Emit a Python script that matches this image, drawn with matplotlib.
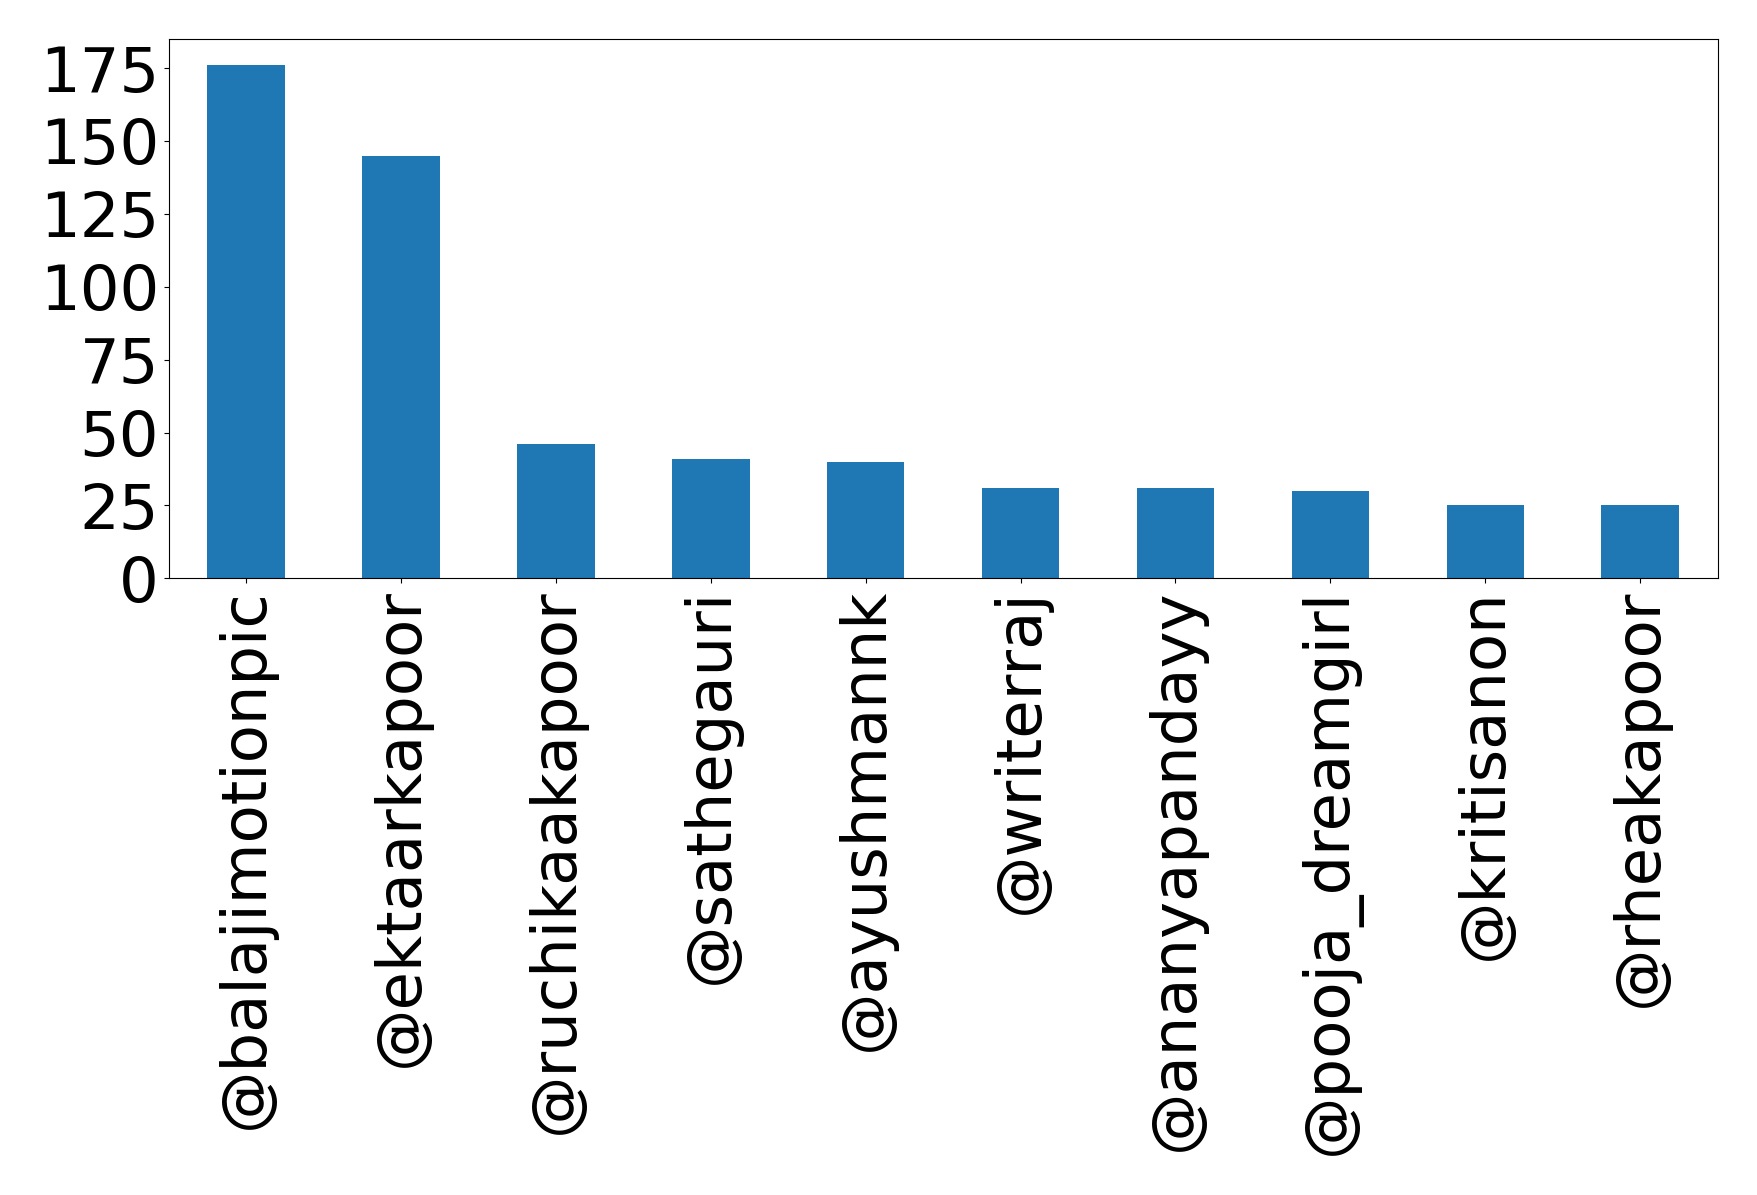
import matplotlib
matplotlib.use("Agg")
import matplotlib.pyplot as plt
import numpy as np

handles = ['@balajimotionpic', '@ektaarkapoor', '@ruchikaakapoor', '@sathegauri',
           '@ayushmannk', '@writerraj', '@ananyapandayy', '@pooja_dreamgirl',
           '@kritisanon', '@rheakapoor']
counts = [176, 145, 46, 41, 40, 31, 31, 30, 25, 25]

font_size = 45
fig = plt.figure(figsize=(17.58, 11.95), dpi=100)
ax = fig.add_axes([0.096, 0.516, 0.881, 0.451])
x = np.arange(len(handles))
ax.bar(x, counts, width=0.5, color='#1f77b4')
ax.set_xlim(-0.5, len(handles) - 0.5)
ax.set_xticks(x)
ax.set_xticklabels(handles, rotation=90, fontsize=font_size)
ax.set_yticks(np.arange(0, 176, 25))
ax.tick_params(axis='y', labelsize=font_size)
fig.savefig('out.png', dpi=100)
